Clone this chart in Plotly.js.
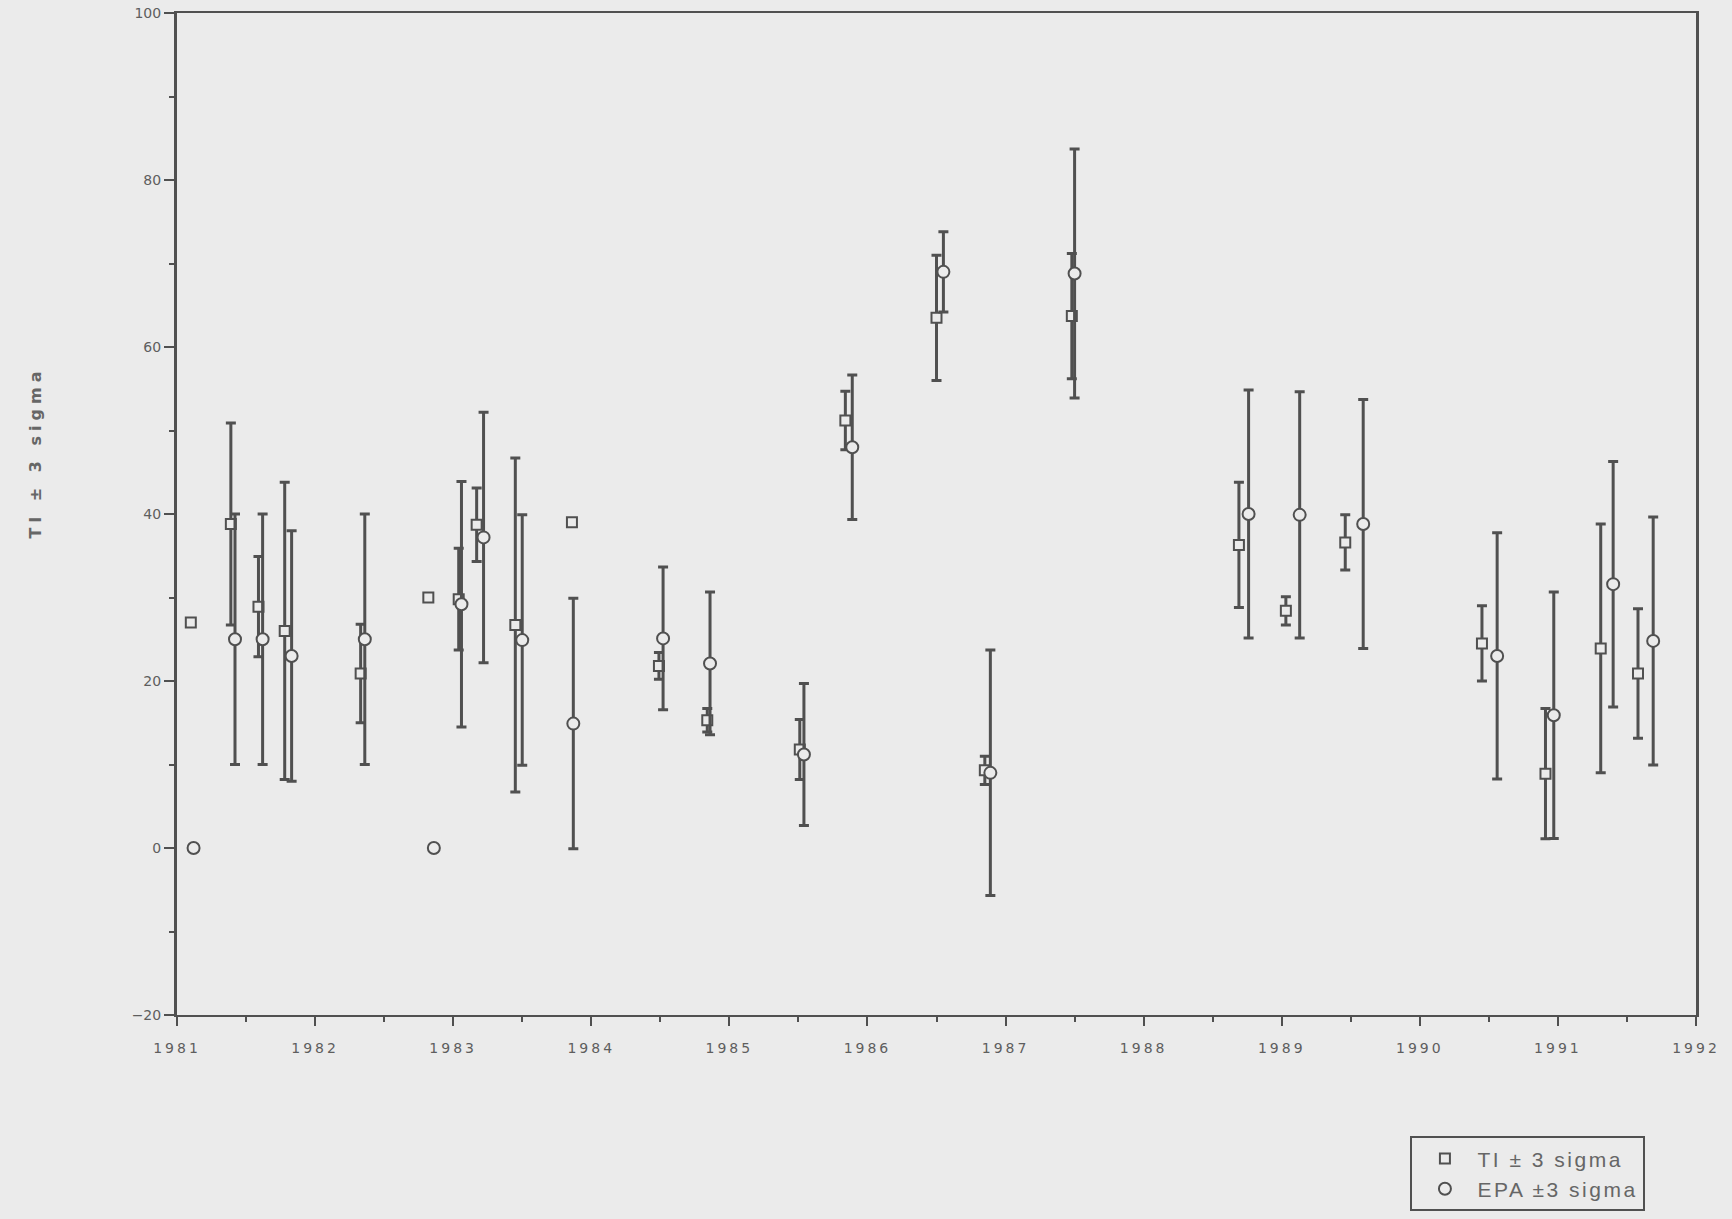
<!DOCTYPE html>
<html>
<head>
<meta charset="utf-8">
<script src="https://cdn.plot.ly/plotly-3.0.1.min.js"></script>
<style>
  html, body { margin: 0; padding: 0; background: #ebebeb; }
  #chart { width: 1732px; height: 1219px; }
  .xtick text { letter-spacing: 3px; }
  .legendtext { letter-spacing: 2.5px; }
  .annotation-text { letter-spacing: 5px; }
</style>
</head>
<body>
<div id="chart"></div>
<script>
// ---- Data ----
const tiYears = [1981.10, 1981.39, 1981.59, 1981.78, 1982.33, 1982.82, 1983.04, 1983.17, 1983.45, 1983.86,
                 1984.49, 1984.84, 1985.51, 1985.84, 1986.50, 1986.85, 1987.48, 1988.69, 1989.03, 1989.46,
                 1990.45, 1990.91, 1991.31, 1991.58];
const tiValues = [27, 38.8, 28.9, 26, 20.9, 30, 29.8, 38.7, 26.7, 39,
                  21.8, 15.3, 11.8, 51.2, 63.5, 9.3, 63.7, 36.3, 28.4, 36.6,
                  24.5, 8.9, 23.9, 20.9];
const tiSigma3 = [null, 12.1, 6, 17.8, 5.9, null, 6.1, 4.4, 20, null,
                  1.6, 1.4, 3.6, 3.5, 7.5, 1.7, 7.5, 7.5, 1.7, 3.3,
                  4.5, 7.8, 14.9, 7.75];

const epaYears = [1981.12, 1981.42, 1981.62, 1981.83, 1982.36, 1982.86, 1983.06, 1983.22, 1983.50, 1983.87,
                  1984.52, 1984.86, 1985.54, 1985.89, 1986.55, 1986.89, 1987.50, 1988.76, 1989.13, 1989.59,
                  1990.56, 1990.97, 1991.40, 1991.69];
const epaValues = [0, 25, 25, 23, 25, 0, 29.2, 37.2, 24.9, 14.9,
                   25.1, 22.1, 11.2, 48, 69, 9, 68.8, 40, 39.9, 38.8,
                   23, 15.9, 31.6, 24.8];
const epaSigma3 = [null, 15, 15, 15, 15, null, 14.7, 15, 15, 15,
                   8.55, 8.55, 8.5, 8.65, 4.8, 14.7, 14.9, 14.85, 14.75, 14.9,
                   14.75, 14.75, 14.7, 14.85];

const seriesNames = ['TI \u00b1 3 sigma', 'EPA \u00b13 sigma'];
const yAxisTitle = 'TI \u00b1 3 sigma';

// ---- Styles ----
const bg = '#ebebeb';
const ink = '#505050';
const textCol = '#666666';

const traces = [
  {
    type: 'scatter', mode: 'markers', name: seriesNames[0],
    x: tiYears, y: tiValues,
    error_y: { type: 'data', array: tiSigma3, symmetric: true, color: ink, thickness: 3, width: 5 },
    marker: { symbol: 'square', size: 10, color: bg, line: { color: ink, width: 2 } }
  },
  {
    type: 'scatter', mode: 'markers', name: seriesNames[1],
    x: epaYears, y: epaValues,
    error_y: { type: 'data', array: epaSigma3, symmetric: true, color: ink, thickness: 3, width: 5 },
    marker: { symbol: 'circle', size: 12, color: bg, line: { color: ink, width: 2 } }
  }
];

const layout = {
  width: 1732, height: 1219,
  paper_bgcolor: bg, plot_bgcolor: bg,
  margin: { l: 177, r: 36, t: 13, b: 204, autoexpand: false },
  font: { family: 'DejaVu Sans, Arial, sans-serif', color: textCol },
  showlegend: true,
  legend: {
    x: 0.812, y: -0.121, xanchor: 'left', yanchor: 'top',
    bgcolor: bg, bordercolor: ink, borderwidth: 2,
    font: { family: 'Liberation Sans, Arial, sans-serif', size: 21, color: textCol },
    itemwidth: 55
  },
  xaxis: {
    range: [1981, 1992], dtick: 1, tick0: 1981,
    showgrid: false, zeroline: false,
    showline: true, linecolor: ink, linewidth: 2, mirror: true,
    ticks: 'outside', ticklen: 9, tickwidth: 2, tickcolor: ink,
    minor: { dtick: 0.5, ticks: 'outside', ticklen: 5, tickwidth: 2, tickcolor: ink },
    tickfont: { family: 'DejaVu Sans, sans-serif', size: 14, color: '#5e5e5e' },
    ticklabelstandoff: 10
  },
  yaxis: {
    range: [-20, 100], dtick: 20, tick0: 0,
    showgrid: false, zeroline: false,
    showline: true, linecolor: ink, linewidth: 3, mirror: true,
    ticks: 'outside', ticklen: 10, tickwidth: 2, tickcolor: ink,
    minor: { dtick: 10, ticks: 'outside', ticklen: 5, tickwidth: 2, tickcolor: ink },
    tickfont: { family: 'DejaVu Sans, sans-serif', size: 14, color: '#5e5e5e' }
  },
  annotations: [
    {
      text: '<b>' + yAxisTitle + '</b>', xref: 'paper', yref: 'paper',
      x: -0.093, y: 0.561, xanchor: 'center', yanchor: 'middle',
      textangle: -90, showarrow: false,
      font: { family: 'DejaVu Sans, sans-serif', size: 16, color: textCol }
    }
  ]
};

Plotly.newPlot('chart', traces, layout, { displayModeBar: false, staticPlot: true });
</script>
</body>
</html>
